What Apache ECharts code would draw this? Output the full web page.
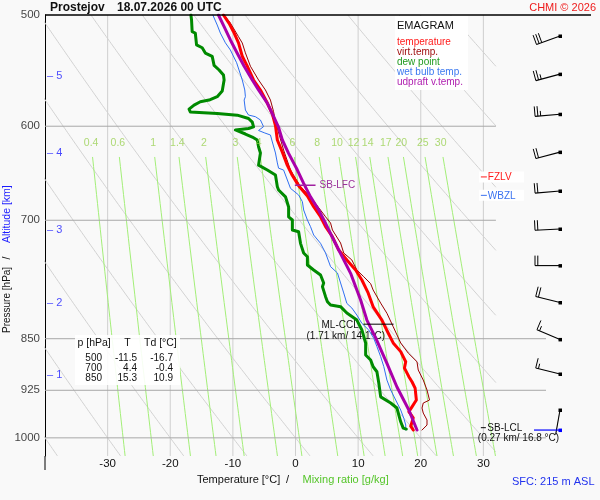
<!DOCTYPE html>
<html>
<head>
<meta charset="utf-8">
<script src="https://cdn.jsdelivr.net/npm/echarts@6/dist/echarts.min.js"></script>
<style>
html,body{margin:0;padding:0;background:#f9f9f9;}
#c{width:600px;height:500px;}
</style>
</head>
<body>
<div id="c"></div>
<script>
const FONT = "'Liberation Sans', Arial, Helvetica, sans-serif";

// ---------------- data ----------------
const pressureTicks = [500, 600, 700, 850, 925, 1000];
const isobarsShort = [600, 700];          // end at 32 °C
const isobarsLong = [850, 925, 1000];     // end at 40 °C
const isotherms = [-30, -20, -10, 0, 10, 20, 30];
const tempTicks = [-30, -20, -10, 0, 10, 20, 30];
const potTemps = [-40, -30, -20, -10, 0, 10, 20, 30, 40, 50, 60, 70, 80, 90];
const mixRatios = [0.4, 0.6, 1, 1.4, 2, 3, 4, 6, 8, 10, 12, 14, 17, 20, 25, 30];
const altitudeKm = [1, 2, 3, 4, 5];
const altitudeP = [902.2, 801.3, 711.3, 626.8, 552.5];

// [temperature °C, pressure hPa]
const temperature = [[-11.5,500],[-10.6,506.9],[-9.9,513.9],[-9.1,523.3],[-8.5,535.0],[-7.7,543.7],[-6.7,556.2],[-5.6,565.4],[-4.5,577.6],[-3.7,588.0],[-3.2,599.3],[-2.9,613.7],[-2.1,626.0],[-1.3,639.8],[-0.5,650.5],[0.5,661.4],[1.9,672.7],[2.9,684.6],[4.0,696.0],[4.8,707.4],[5.9,719.2],[6.9,735.0],[8.2,747.1],[9.6,759.5],[10.6,772.0],[11.6,788.6],[12.4,806.7],[13.8,824.4],[14.8,842.1],[15.6,855.9],[16.8,868.2],[17.6,882.7],[17.4,891.9],[18.1,904.6],[18.6,912.1],[19.1,921.6],[19.3,939.9],[18.6,950.5],[18.1,958.1],[18.8,967.8],[18.4,981.0],[18.8,987.3]];
const virtualTemp = [[-11.4,500],[-10.4,506.6],[-9.1,518.1],[-8.5,523.5],[-8.0,532.0],[-7.2,543.8],[-5.9,556.2],[-4.8,565.4],[-4.0,574.8],[-3.5,585.9],[-3.2,595.5],[-2.6,608.6],[-1.9,623.9],[-0.8,644.7],[0.8,662.5],[2.4,673.6],[4.8,696.0],[5.6,703.2],[5.9,711.3],[7.2,726.6],[7.7,738.6],[9.0,747.1],[9.8,759.5],[10.9,767.9],[12.0,776.7],[12.4,784.8],[13.6,801.8],[14.6,815.3],[15.6,833.4],[16.8,856.0],[18.0,870.2],[19.4,882.7],[19.6,894.8],[20.4,909.6],[21.0,924.6],[21.4,939.9],[20.4,944.5],[20.2,952.3],[20.4,960.2],[21.0,971.2],[21.0,979.2],[20.2,987.3]];
const dewPoint = [[-16.7,500],[-16.6,504.1],[-16.5,513.9],[-16.0,515.0],[-15.8,525.1],[-14.9,527.6],[-14.4,532.2],[-13.3,535.1],[-13.0,543.0],[-12.2,547.2],[-11.5,551.7],[-11.4,556.2],[-11.7,566.3],[-12.5,571.6],[-13.8,574.8],[-15.2,576.4],[-16.2,579.6],[-17.0,583.5],[-16.8,586.1],[-12.5,587.6],[-9.3,589.2],[-7.5,592.4],[-6.9,596.0],[-6.7,600.6],[-7.5,602.2],[-9.6,603.7],[-9.8,605.4],[-8.0,607.7],[-6.9,610.7],[-6.1,613.7],[-5.9,620.5],[-5.6,626.9],[-5.9,639.5],[-5.6,641.3],[-4.5,644.7],[-3.2,650.0],[-2.9,662.5],[-2.7,666.1],[-1.6,673.6],[-1.1,685.0],[-1.1,696.0],[-0.5,699.7],[-0.5,711.3],[0.5,713.3],[0.8,727.0],[1.3,738.6],[1.9,743.1],[1.9,753.3],[2.9,759.5],[4.0,765.7],[4.5,775.8],[4.3,780.5],[4.8,793.4],[5.1,800.0],[5.6,804.3],[7.2,806.5],[8.2,815.0],[9.8,824.4],[10.6,838.0],[11.2,856.0],[11.2,873.0],[12.0,880.2],[12.4,890.0],[13.0,897.3],[13.3,914.1],[13.6,935.0],[15.2,944.5],[16.2,952.3],[16.5,963.3],[16.8,974.0],[17.2,984.1],[17.7,985.7]];
const wetBulb = [[-13.2,500],[-12.5,508.3],[-12.0,515.0],[-11.2,523.3],[-10.4,529.5],[-9.4,540.7],[-8.5,556.2],[-8.1,565.4],[-8.0,571.6],[-8.2,574.8],[-8.0,584.3],[-7.5,589.1],[-6.4,590.7],[-5.6,593.9],[-5.1,600.4],[-5.9,604.2],[-4.9,606.7],[-4.0,608.7],[-3.7,615.7],[-3.2,626.9],[-2.9,637.2],[-2.7,642.7],[-1.9,644.7],[-1.3,655.3],[-0.8,664.3],[0.5,671.6],[1.1,679.0],[1.3,688.3],[1.9,699.7],[2.4,707.4],[2.9,717.1],[4.0,727.0],[4.8,738.6],[5.6,755.3],[6.7,763.2],[7.2,775.8],[7.7,788.6],[8.2,802.2],[9.0,808.3],[9.8,817.7],[10.6,828.9],[11.7,838.0],[12.5,849.5],[13.0,861.0],[13.6,875.4],[14.1,889.8],[14.6,909.6],[15.2,924.6],[16.0,939.9],[16.8,955.4],[17.3,968.6],[17.6,979.2],[17.6,987.3]];
const parcel = [[-12.3,500],[-11.4,509.7],[-10.4,520.9],[-9.3,532.3],[-8.2,543.8],[-6.9,556.2],[-5.9,565.4],[-4.5,577.8],[-3.5,590.3],[-2.7,601.2],[-2.1,613.7],[-1.1,627.3],[0.3,644.7],[1.3,658.9],[2.4,673.6],[3.7,688.3],[4.8,703.5],[6.1,723.0],[7.5,744.0],[8.8,763.6],[9.8,784.8],[10.4,797.8],[11.4,824.4],[12.8,848.8],[14.6,885.0],[16.2,920.0],[18.1,955.4],[19.4,987.3]];

const windP = [517.5, 550.9, 588.3, 626.0, 667.2, 710.1, 754.0, 801.0, 851.0, 900.6, 955.4];
const windDir = [250, 255, 265, 255, 265, 267, 270, 284, 293, 284, 190];
const windKt = [30, 25, 25, 20, 20, 20, 20, 20, 15, 15, 2];
const surfaceP = 987.3;

const tableP = [500, 700, 850];
const tableT = [-11.5, 4.4, 15.3];
const tableTd = [-16.7, -0.4, 10.9];

const lfcP = 661, lfcT = [-0.1, 3.2];
const cclP = 830, cclT = [10.9, 15.6];
const levelNames = ['FZLV', 'WBZL'];
const levelP = [652, 672];
const levelColors = ['#ff1a1a', '#3a72f0'];
const lclP = 983.5;

const legendNames = ['temperature', 'virt.temp.', 'dew point', 'wet bulb temp.', 'udpraft v.temp.'];
const legendColors = ['#ff1a1a', '#a01010', '#1f9a1f', '#3a78f0', '#b020b0'];

// ---------------- helpers (background thermodynamic grid) ----------------
const P_TOP = 500, P_BOT = 1030.2, T_MIN = -40, T_MAX = 40, T_CLIP = 32;
function adiabat(theta) {
  const out = [];
  let prev = null;
  for (let p = P_TOP; p <= P_BOT + 0.001; p += 2) {
    const T = (theta + 273.15) * Math.pow(p / 1000, 0.2857) - 273.15;
    if (T <= T_CLIP) { out.push([T, p]); prev = [T, p]; }
    else {
      if (prev) { const f = (T_CLIP - prev[0]) / (T - prev[0]); out.push([T_CLIP, prev[1] + f * (p - prev[1])]); }
      break;
    }
  }
  return out;
}
function tdFromW(w, p) {
  const e = w * p / (622 + w);
  const a = Math.log(e / 6.112);
  return 243.5 * a / (17.67 - a);
}
function mixLine(w) {
  const out = [];
  for (let p = 631; p <= P_BOT + 0.001; p += 10) out.push([tdFromW(w, p), p]);
  out.push([tdFromW(w, P_BOT), P_BOT]);
  return out;
}
function bg(data, color, width, z) {
  return { type: 'line', data, showSymbol: false, symbol: 'none', silent: true, z: z || 1,
    lineStyle: { color, width, type: 'solid' }, animation: false };
}

const series = [];
isotherms.forEach(t => series.push(bg([[t, P_TOP], [t, P_BOT]], '#cfcfcf', 1)));
potTemps.forEach(th => series.push(bg(adiabat(th), '#d2d2d2', 1)));
mixRatios.forEach(w => series.push(bg(mixLine(w), '#a3ee78', 1)));
isobarsShort.forEach(p => series.push(bg([[T_MIN, p], [T_CLIP, p]], '#a8a8a8', 1)));
isobarsLong.forEach(p => series.push(bg([[T_MIN, p], [T_MAX, p]], '#a8a8a8', 1)));

// CCL text (drawn under profiles)
series.push({
  type: 'custom', coordinateSystem: 'cartesian2d', clip: false, silent: true, z: 2,
  data: [[cclT[0], cclP]],
  renderItem: (params, api) => {
    const c = api.coord([api.value(0), api.value(1)]);
    return { type: 'group', children: [
      { type: 'text', style: { text: 'ML-CCL', x: c[0] - 5, y: c[1] + 1, textAlign: 'right', textVerticalAlign: 'middle', fill: '#111', font: '10px ' + FONT } },
      { type: 'text', style: { text: '(1.71 km/ 14.1°C)', x: c[0] - 18, y: c[1] + 12, textAlign: 'center', textVerticalAlign: 'middle', fill: '#111', font: '10px ' + FONT } }
    ]};
  }
});

function prof(data, color, width, z) {
  return { type: 'line', data, showSymbol: false, symbol: 'none', silent: true, z,
    lineStyle: { color, width, join: 'round', cap: 'round' }, animation: false };
}
series.push(prof(wetBulb, '#2f6ff0', 1, 3));
series.push(prof(dewPoint, '#008a00', 3, 4));
series.push(prof(virtualTemp, '#990000', 1, 5));
series.push(prof(temperature, '#ff0000', 3, 6));
series.push(prof(parcel, '#aa00aa', 3, 7));

// level lines
series.push(prof([[cclT[0], cclP], [cclT[1], cclP]], '#000000', 1, 8));
series.push({ type: 'line', data: [[lfcT[0], lfcP], [lfcT[1], lfcP]], showSymbol: false, symbol: 'none', silent: true, z: 8,
  lineStyle: { color: '#a020a0', width: 1.5 }, animation: false,
  endLabel: { show: true, formatter: 'SB-LFC', color: '#9a309a', fontSize: 10, fontFamily: FONT, distance: 4 } });

// pressure labels
series.push({ type: 'scatter', clip: false, silent: true, symbolSize: 0, z: 9,
  data: pressureTicks.map(p => [T_MIN, p]),
  label: { show: true, position: 'left', distance: 5, formatter: d => String(d.value[1]), color: '#111', fontSize: 11.5, fontFamily: FONT } });
// altitude labels
series.push({ type: 'scatter', clip: false, silent: true, symbolSize: 0, z: 9,
  data: altitudeKm.map((k, i) => [T_MIN, altitudeP[i], k]),
  label: { show: true, position: 'right', distance: 2, formatter: d => '– ' + d.value[2], color: '#1c1cff', fontSize: 11, fontFamily: FONT } });
// mixing ratio labels
series.push({ type: 'scatter', clip: false, silent: true, symbolSize: 0, z: 9,
  data: mixRatios.map(w => [tdFromW(w, 617), 617, w]),
  label: { show: true, position: 'inside', formatter: d => String(d.value[2]), color: '#9ad152', fontSize: 10.5, fontFamily: FONT } });

// level tags FZLV / WBZL / SB-LCL
series.push({
  type: 'custom', coordinateSystem: 'cartesian2d', clip: false, silent: true, z: 20,
  data: levelNames.map((n, i) => [29.6, levelP[i], i]).concat([[29.6, lclP, -1]]),
  renderItem: (params, api) => {
    const c = api.coord([api.value(0), api.value(1)]);
    const i = api.value(2);
    const x = c[0], y = c[1];
    if (i >= 0) {
      return { type: 'group', children: [
        { type: 'rect', shape: { x: x - 2, y: y - 5.5, width: 45, height: 11 }, style: { fill: '#ffffff' } },
        { type: 'line', shape: { x1: x, y1: y, x2: x + 6, y2: y }, style: { stroke: levelColors[i], lineWidth: 1 } },
        { type: 'text', style: { text: levelNames[i], x: x + 7, y: y + 0.5, textAlign: 'left', textVerticalAlign: 'middle', fill: levelColors[i], font: '10px ' + FONT } }
      ]};
    }
    return { type: 'group', children: [
      { type: 'line', shape: { x1: x, y1: y, x2: x + 5, y2: y }, style: { stroke: '#000', lineWidth: 1 } },
      { type: 'text', style: { text: 'SB-LCL', x: x + 6.5, y: y + 0.5, textAlign: 'left', textVerticalAlign: 'middle', fill: '#111', font: '10px ' + FONT } },
      { type: 'text', style: { text: '(0.27 km/ 16.8 °C)', x: x - 3, y: y + 11, textAlign: 'left', textVerticalAlign: 'middle', fill: '#111', font: '10px ' + FONT } }
    ]};
  }
});

// wind barbs
series.push({
  type: 'custom', coordinateSystem: 'cartesian2d', clip: false, silent: true, z: 20,
  data: windP.map((p, i) => [T_MAX, p, windDir[i], windKt[i]]).concat([[T_MAX, surfaceP, -1, 0]]),
  renderItem: (params, api) => {
    const c = api.coord([api.value(0), api.value(1)]);
    const x0 = c[0] + 14, y0 = c[1];
    const dirDeg = api.value(2);
    if (dirDeg < 0) {
      return { type: 'group', children: [
        { type: 'line', shape: { x1: x0 - 26, y1: y0, x2: x0, y2: y0 }, style: { stroke: '#0000ff', lineWidth: 1.2 } },
        { type: 'rect', shape: { x: x0 - 1.5, y: y0 - 1.5, width: 3.5, height: 3.5 }, style: { fill: '#0000ff' } }
      ]};
    }
    const d = dirDeg * Math.PI / 180, kt = api.value(3);
    const ux = Math.sin(d), uy = -Math.cos(d);
    const L = 25;
    const tx = x0 + ux * L, ty = y0 + uy * L;
    const px = -uy, py = ux;
    const ch = [
      { type: 'line', shape: { x1: x0, y1: y0, x2: tx, y2: ty }, style: { stroke: '#000', lineWidth: 1.1 } },
      { type: 'rect', shape: { x: x0 - 1.5, y: y0 - 1.5, width: 3.5, height: 3.5 }, style: { fill: '#000' } }
    ];
    const n = Math.round(kt / 5);
    const full = Math.floor(n / 2), half = n % 2;
    let pos = 0;
    for (let k = 0; k < full; k++) {
      const sx = tx - ux * pos, sy = ty - uy * pos;
      ch.push({ type: 'line', shape: { x1: sx, y1: sy, x2: sx + px * 10, y2: sy + py * 10 }, style: { stroke: '#000', lineWidth: 1 } });
      pos += 2.8;
    }
    if (half) {
      if (pos === 0) pos = 2.8;
      const sx = tx - ux * pos, sy = ty - uy * pos;
      ch.push({ type: 'line', shape: { x1: sx, y1: sy, x2: sx + px * 5, y2: sy + py * 5 }, style: { stroke: '#000', lineWidth: 1 } });
    }
    return { type: 'group', children: ch };
  }
});

// ---------------- graphic texts ----------------
const graphics = [];
function txt(text, x, y, font, fill, align, extra) {
  return Object.assign({ type: 'text', z: 100, silent: true,
    style: { text, x, y, font: font + ' ' + FONT, fill, textAlign: align || 'left', textVerticalAlign: 'middle' } }, extra || {});
}
graphics.push(txt('Prostejov', 50, 7.5, 'bold 12px', '#111'));
graphics.push(txt('18.07.2026 00 UTC', 117, 7.5, 'bold 12px', '#111'));
graphics.push(txt('CHMI © 2026', 596, 7.5, '11px', '#ee1c1c', 'right'));
graphics.push({ type: 'line', z: 100, silent: true, shape: { x1: 45, y1: 15, x2: 591, y2: 15 }, style: { stroke: '#000', lineWidth: 1.5 } });
graphics.push({ type: 'line', z: 100, silent: true, shape: { x1: 45, y1: 456, x2: 45, y2: 470 }, style: { stroke: '#000', lineWidth: 1 } });
// legend
graphics.push({ type: 'rect', z: 99, silent: true, shape: { x: 395, y: 16, width: 73, height: 74 }, style: { fill: '#ffffff' } });
graphics.push(txt('EMAGRAM', 397, 26, '11px', '#111'));
legendNames.forEach((n, i) => graphics.push(txt(n, 397, 42 + i * 10, '10px', legendColors[i])));
// table
graphics.push({ type: 'rect', z: 99, silent: true, shape: { x: 75, y: 335, width: 105, height: 50 }, style: { fill: 'rgba(255,255,255,0.9)' } });
graphics.push(txt('p [hPa]', 77.5, 343.5, '10.5px', '#111'));
graphics.push(txt('T', 127.5, 343.5, '10.5px', '#111', 'center'));
graphics.push(txt('Td [°C]', 144, 343.5, '10.5px', '#111'));
tableP.forEach((p, i) => {
  const y = 358.3 + i * 10;
  graphics.push(txt(String(p), 102, y, '10px', '#111', 'right'));
  graphics.push(txt(tableT[i].toFixed(1), 137, y, '10px', '#111', 'right'));
  graphics.push(txt(tableTd[i].toFixed(1), 173, y, '10px', '#111', 'right'));
});
// axis titles
graphics.push(txt('Temperature [°C]', 197, 480, '11px', '#111'));
graphics.push(txt('/', 286, 480, '11px', '#111'));
graphics.push(txt('Mixing ratio [g/kg]', 302.5, 480, '11px', '#55c52a'));
graphics.push(txt('SFC: 215 m ASL', 512, 481.5, '11px', '#2233ee'));
graphics.push({ type: 'text', z: 100, silent: true, x: 7.5, y: 333, rotation: Math.PI / 2,
  style: { text: 'Pressure [hPa]', x: 0, y: 0, font: '10px ' + FONT, fill: '#111', textAlign: 'left', textVerticalAlign: 'middle' } });
graphics.push({ type: 'text', z: 100, silent: true, x: 7.5, y: 259.5, rotation: Math.PI / 2,
  style: { text: '/', x: 0, y: 0, font: '10.5px ' + FONT, fill: '#111', textAlign: 'left', textVerticalAlign: 'middle' } });
graphics.push({ type: 'text', z: 100, silent: true, x: 7.5, y: 243, rotation: Math.PI / 2,
  style: { text: 'Altitude [km]', x: 0, y: 0, font: '10.5px ' + FONT, fill: '#1c1cff', textAlign: 'left', textVerticalAlign: 'middle' } });

const chart = echarts.init(document.getElementById('c'), null, { renderer: 'canvas' });
chart.setOption({
  animation: false,
  backgroundColor: '#f9f9f9',
  grid: { left: 45, right: 54, top: 15, bottom: 44, containLabel: false },
  xAxis: {
    type: 'value', min: T_MIN, max: T_MAX, interval: 10,
    axisLine: { show: false }, axisTick: { show: false }, splitLine: { show: false },
    axisLabel: { margin: 2, color: '#111', fontSize: 11.5, fontFamily: FONT,
      formatter: v => (tempTicks.indexOf(v) >= 0 ? String(v) : '') }
  },
  yAxis: {
    type: 'log', logBase: 10, min: P_TOP, max: P_BOT, inverse: true,
    axisLine: { show: true, onZero: false, lineStyle: { color: '#000', width: 1 } },
    axisTick: { show: false }, axisLabel: { show: false }, splitLine: { show: false }
  },
  graphic: graphics,
  series
});
</script>
</body>
</html>
